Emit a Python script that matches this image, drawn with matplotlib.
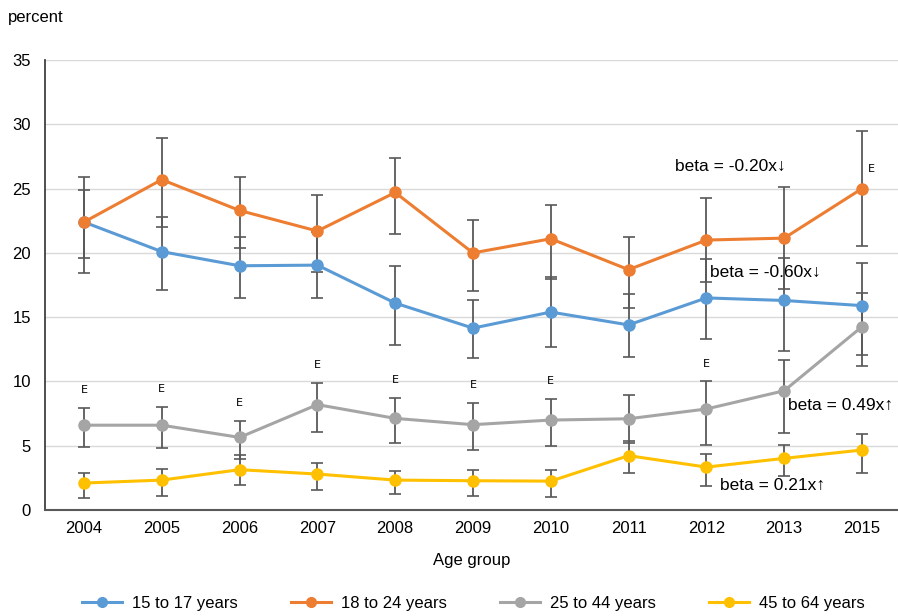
import numpy as np
import matplotlib.pyplot as plt
from matplotlib.lines import Line2D

plt.rcParams['font.family'] = ['Liberation Sans Narrow', 'Liberation Sans', 'DejaVu Sans']

years = ['2004', '2005', '2006', '2007', '2008', '2009', '2010', '2011', '2012', '2013', '2015']
labels = ['15 to 17 years', '18 to 24 years', '25 to 44 years', '45 to 64 years']
colors = ['#5B9BD5', '#ED7D31', '#A5A5A5', '#FFC000']

# values (percent)
age_15_17 = [22.4, 20.1, 19.0, 19.05, 16.1, 14.15, 15.4, 14.4, 16.5, 16.3, 15.9]
age_18_24 = [22.4, 25.7, 23.3, 21.7, 24.7, 20.0, 21.1, 18.7, 21.0, 21.15, 25.0]
age_25_44 = [6.6, 6.6, 5.65, 8.2, 7.13, 6.64, 7.0, 7.1, 7.86, 9.28, 14.26]
age_45_64 = [2.1, 2.33, 3.14, 2.8, 2.33, 2.28, 2.25, 4.23, 3.34, 4.02, 4.67]

# confidence interval bounds
low_15_17 = [18.4, 17.1, 16.5, 16.5, 12.8, 11.8, 12.7, 11.9, 13.3, 12.4, 12.05]
up_15_17 = [24.9, 22.8, 21.2, 21.6, 19.0, 16.3, 18.1, 16.8, 19.5, 19.6, 19.2]
low_18_24 = [19.6, 22.0, 20.4, 18.5, 21.5, 17.0, 18.0, 15.7, 17.7, 17.2, 20.5]
up_18_24 = [25.9, 28.9, 25.9, 24.5, 27.4, 22.55, 23.7, 21.2, 24.3, 25.1, 29.5]
low_25_44 = [4.93, 4.8, 4.0, 6.1, 5.2, 4.67, 4.95, 5.2, 5.05, 6.0, 11.2]
up_25_44 = [7.96, 8.0, 6.9, 9.9, 8.7, 8.35, 8.66, 8.94, 10.0, 11.7, 16.9]
low_45_64 = [0.9, 1.09, 1.92, 1.58, 1.24, 1.09, 0.99, 2.85, 1.87, 2.64, 2.9]
up_45_64 = [2.85, 3.16, 4.3, 3.63, 3.06, 3.14, 3.14, 5.4, 4.33, 5.03, 5.94]

# "E" flags (use with caution)
e_25_44 = ['2004', '2005', '2006', '2007', '2008', '2009', '2010', '2012']
e_18_24 = ['2015']

series = [age_15_17, age_18_24, age_25_44, age_45_64]
lows = [low_15_17, low_18_24, low_25_44, low_45_64]
ups = [up_15_17, up_18_24, up_25_44, up_45_64]

fig = plt.figure(figsize=(8.98, 6.16), dpi=100)
ax = fig.add_axes([0.0501, 0.172, 0.9499, 0.7305])

x = np.arange(len(years))
for vals, lo, up, c in zip(series, lows, ups, colors):
    vals = np.array(vals)
    err = [vals - np.array(lo), np.array(up) - vals]
    ax.errorbar(x, vals, yerr=err, fmt='none', ecolor='#595959', elinewidth=1.3,
                capsize=4, capthick=1.2, zorder=2)
    ax.plot(x, vals, color=c, lw=2.2, marker='o', ms=8, zorder=3)

for yr in e_25_44:
    i = years.index(yr)
    ax.text(i, up_25_44[i] + 1.0, 'E', ha='center', va='bottom', fontsize=8,
            family='DejaVu Sans')
for yr in e_18_24:
    i = years.index(yr)
    ax.text(i + 0.07, age_18_24[i] + 1.1, 'E', ha='left', va='bottom', fontsize=8,
            family='DejaVu Sans')

ax.text(7.6, 26.7, 'beta = -0.20x\u2193', fontsize=12.5, va='center', ha='left')
ax.text(8.05, 18.5, 'beta = -0.60x\u2193', fontsize=12.5, va='center', ha='left')
ax.text(9.05, 8.1, 'beta = 0.49x\u2191', fontsize=12.5, va='center', ha='left')
ax.text(8.17, 1.95, 'beta = 0.21x\u2191', fontsize=12.5, va='center', ha='left')

ax.set_xlim(-0.501, 10.463)
ax.set_ylim(0, 35)
ax.set_yticks(np.arange(0, 36, 5))
ax.set_xticks(x)
ax.set_xticklabels(years)
ax.tick_params(axis='both', length=0, labelsize=12, colors='black')
ax.tick_params(axis='y', pad=10)
ax.tick_params(axis='x', pad=8)
ax.grid(axis='y', color='#D9D9D9', lw=1)
ax.set_axisbelow(True)
for s in ['top', 'right']:
    ax.spines[s].set_visible(False)
ax.spines['left'].set_color('#404040')
ax.spines['left'].set_linewidth(1.3)
ax.spines['bottom'].set_color('#595959')
ax.spines['bottom'].set_linewidth(1.5)

ax.set_xlabel('Age group', fontsize=12, labelpad=12)
fig.text(0.009, 0.972, 'percent', fontsize=12, va='center', ha='left')

handles = [Line2D([0], [0], color=c, lw=2.2, marker='o', ms=7) for c in colors]
fig.legend(handles, labels, loc='center', bbox_to_anchor=(0.527, 0.021), ncol=4,
           frameon=False, fontsize=12, columnspacing=3.2, handlelength=2.4,
           handletextpad=0.6)

fig.savefig('out.png', dpi=100)
